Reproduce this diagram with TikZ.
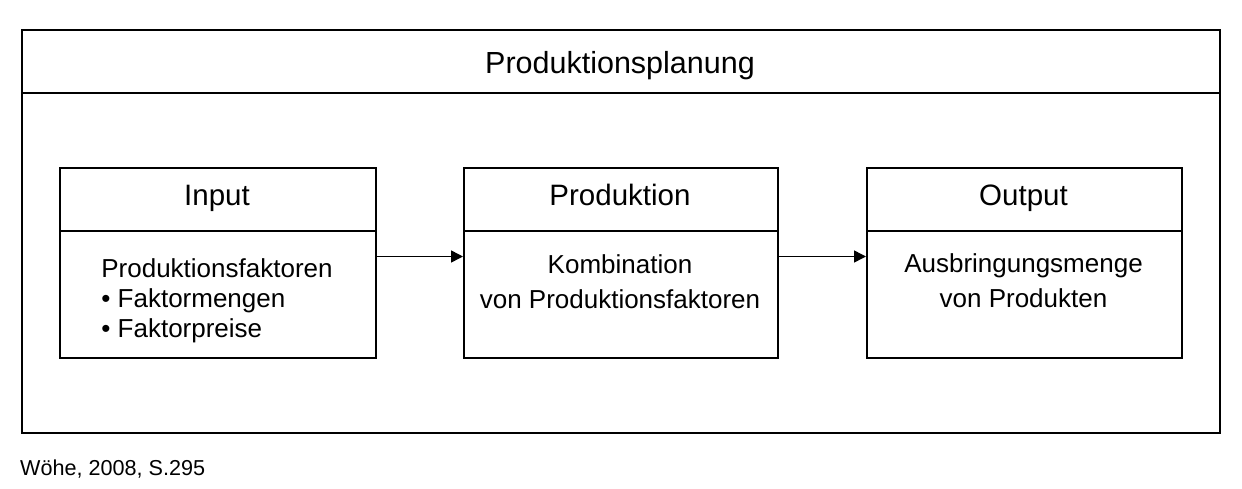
\documentclass[tikz,border=0pt]{standalone}
\usepackage{fontspec}
\setmainfont{Liberation Sans}
\usetikzlibrary{arrows.meta}
\begin{document}
\begin{tikzpicture}[x=1pt,y=-1pt,
  frame/.style={draw, line width=1.5pt, rectangle, inner sep=0pt, anchor=north west},
  titletext/.style={anchor=base, font=\fontsize{30.5}{36}\selectfont, inner sep=0pt},
  headtext/.style={anchor=base, font=\fontsize{29.5}{35}\selectfont, inner sep=0pt},
  bodytext/.style={anchor=base, font=\fontsize{26}{30}\selectfont, inner sep=0pt},
  foottext/.style={anchor=base west, font=\fontsize{21.6}{26}\selectfont, inner sep=0pt},
  flow/.style={-{Triangle[length=12pt,width=12pt]}, line width=1.5pt}]
\useasboundingbox (0,0) rectangle (1242,488);
% outer frame
\node[frame, minimum width=1198pt, minimum height=63pt] (titlebox) at (21,29) {};
\node[frame, minimum width=1198pt, minimum height=340pt] (mainbox) at (21,92) {};
\node[titletext] (title) at (620,73) {Produktionsplanung};
% Input
\node[frame, minimum width=316pt, minimum height=63pt] (inhead) at (59,167) {};
\node[frame, minimum width=316pt, minimum height=127pt] (inbody) at (59,230) {};
\node[headtext] (intitle) at (217,205) {Input};
\node[bodytext, align=left] (intext) at (217,337) {Produktionsfaktoren\\• Faktormengen\\• Faktorpreise};
% Produktion
\node[frame, minimum width=314pt, minimum height=63pt] (prodhead) at (463,167) {};
\node[frame, minimum width=314pt, minimum height=127pt] (prodbody) at (463,230) {};
\node[headtext] (prodtitle) at (620,205) {Produktion};
\node[bodytext, align=center] (prodtext) at (620,308) {Kombination\\[5pt]von Produktionsfaktoren};
% Output
\node[frame, minimum width=315pt, minimum height=63pt] (outhead) at (866,167) {};
\node[frame, minimum width=315pt, minimum height=127pt] (outbody) at (866,230) {};
\node[headtext] (outtitle) at (1023.5,205) {Output};
\node[bodytext, align=center] (outtext) at (1023.5,307) {Ausbringungsmenge\\[5pt]von Produkten};
% arrows
\coordinate (arrowrow) at (0,256.5);
\draw[flow] (inbody.east |- arrowrow) -- (prodbody.west |- arrowrow);
\draw[flow] (prodbody.east |- arrowrow) -- (outbody.west |- arrowrow);
% source
\node[foottext] (source) at (20,475) {Wöhe, 2008, S.295};
\end{tikzpicture}
\end{document}
